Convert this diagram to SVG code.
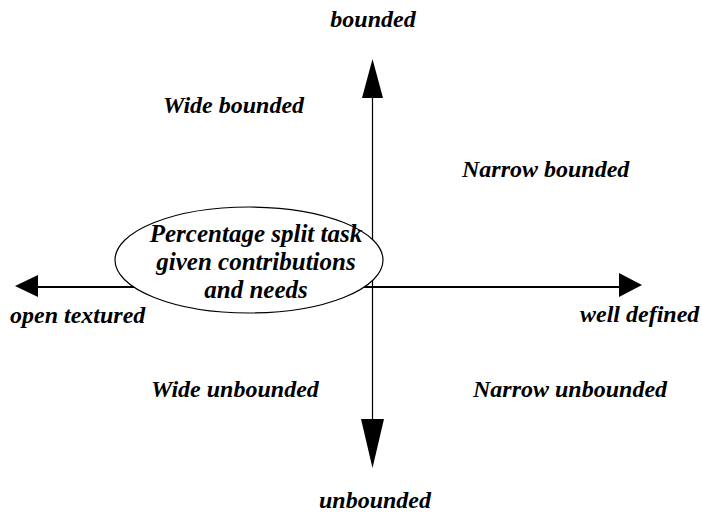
<svg xmlns="http://www.w3.org/2000/svg" width="702" height="515" viewBox="0 0 702 515">
  <style>
    text { font-family: "Liberation Serif", "Times New Roman", "DejaVu Serif", serif; font-weight: bold; font-style: italic; font-size: 24px; fill: #000; }
    .inner { font-size: 25px; }
    .axis { stroke: #000; fill: none; }
    .head { fill: #000; stroke: none; }
  </style>
  <rect width="702" height="515" fill="#fff"/>
  <g id="connectors">
    <!-- vertical axis: bounded / unbounded -->
    <line class="axis" x1="372.5" y1="96" x2="372.5" y2="421" stroke-width="1.2"/>
    <polygon class="head" points="372.5,59 362,98 383,98"/>
    <polygon class="head" points="372.5,468 361,419 384,419"/>
    <!-- horizontal axis: open textured / well defined -->
    <line class="axis" x1="36" y1="287" x2="621" y2="287" stroke-width="2.2"/>
    <polygon class="head" points="15,286 38,275 38,297"/>
    <polygon class="head" points="642,285 619,273 619,297"/>
  </g>
  <g id="task">
    <ellipse cx="249" cy="260" rx="134" ry="53" fill="#fff" stroke="#000" stroke-width="1.2"/>
    <text class="inner" x="256" y="242" text-anchor="middle">Percentage split task</text>
    <text class="inner" x="256" y="270" text-anchor="middle">given contributions</text>
    <text class="inner" x="256" y="298" text-anchor="middle">and needs</text>
  </g>
  <g id="label-bounded"><text x="373" y="27" text-anchor="middle">bounded</text></g>
  <g id="label-unbounded"><text x="375" y="508" text-anchor="middle">unbounded</text></g>
  <g id="label-open"><text x="10" y="323">open textured</text></g>
  <g id="label-well"><text x="580" y="322">well defined</text></g>
  <g id="quad-wide-bounded"><text x="163" y="113">Wide bounded</text></g>
  <g id="quad-narrow-bounded"><text x="462" y="177">Narrow bounded</text></g>
  <g id="quad-wide-unbounded"><text x="151" y="397">Wide unbounded</text></g>
  <g id="quad-narrow-unbounded"><text x="473" y="397">Narrow unbounded</text></g>
</svg>
